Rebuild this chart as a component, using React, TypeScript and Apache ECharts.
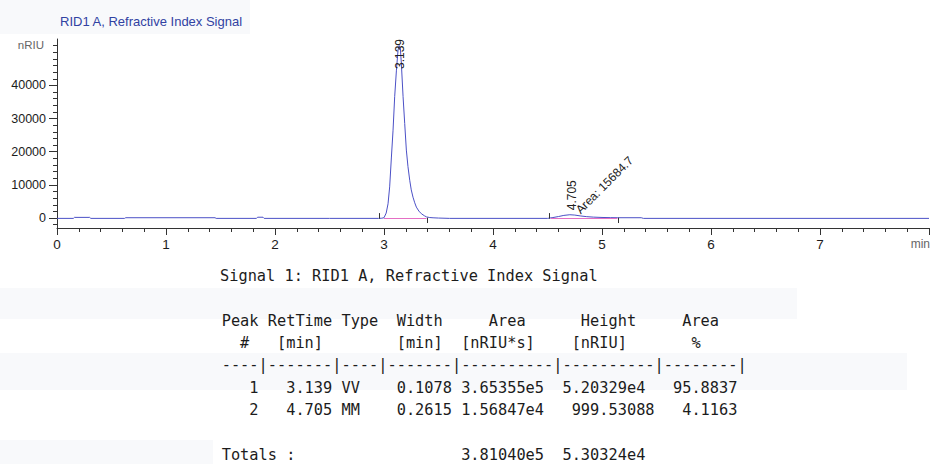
import React, { useEffect, useRef } from "react";
import * as echarts from "echarts";

// ---------- data ----------
const chartTitle = "RID1 A, Refractive Index Signal";
const xUnit = "min";
const yUnit = "nRIU";
const xMajorTicks = [0, 1, 2, 3, 4, 5, 6, 7];
const yMajorTicks = [0, 10000, 20000, 30000, 40000];
const yMinorTicks = [
  -2000, 2000, 4000, 6000, 8000, 12000, 14000, 16000, 18000, 22000, 24000, 26000, 28000,
  32000, 34000, 36000, 38000, 42000, 44000, 46000, 48000, 50000, 52000,
];

const signalTime = [
  0.0, 0.15, 0.16, 0.3, 0.31, 0.62, 0.63, 1.45, 1.46, 1.83, 1.84, 1.89, 1.9, 2.5, 2.95,
  2.98, 3.0, 3.02, 3.037, 3.052, 3.068, 3.083, 3.098, 3.114, 3.129, 3.139, 3.15, 3.159,
  3.175, 3.19, 3.205, 3.22, 3.236, 3.25, 3.266, 3.282, 3.297, 3.32, 3.343, 3.37, 3.39,
  3.42, 3.45, 3.5, 3.6, 4.5, 4.55, 4.6, 4.65, 4.705, 4.75, 4.8, 4.86, 4.92, 5.0, 5.08,
  5.14, 5.36, 5.38, 8.0,
];
const signalValue = [
  -100, -100, 200, 200, -100, -100, 100, 100, -100, -100, 250, 250, -100, -100, -100,
  -50, 100, 1500, 4300, 9400, 18400, 26500, 36600, 44600, 50700, 52033, 51200, 46700,
  36600, 28500, 20500, 15500, 11400, 8500, 6300, 4600, 3300, 2100, 1300, 700, 350,
  150, 80, 0, -100, -100, 150, 450, 800, 1000, 900, 650, 420, 280, 180, 120,
  100, 100, -100, -100,
];

const peakTimes = [3.139, 4.705];
const peakHeights = [52032.9, 999.53088];
const peakAreaNotes = ["", "Area: 15684.7"];
const peakStartTicks = [2.955, 4.512];
const peakEndTicks = [3.398, 5.145];
const baselineStarts = [3.0, 4.53];
const baselineEnds = [3.39, 5.14];

const reportSignal = "Signal 1: RID1 A, Refractive Index Signal";
const reportHeader = [
  "Peak RetTime Type  Width     Area      Height     Area",
  "  #   [min]        [min]  [nRIU*s]    [nRIU]       %",
  "----|-------|----|-------|----------|----------|--------|",
];
const reportRows = [
  "   1   3.139 VV    0.1078 3.65355e5  5.20329e4   95.8837",
  "   2   4.705 MM    0.2615 1.56847e4   999.53088   4.1163",
];
const reportTotals = "Totals :                  3.81040e5  5.30324e4";

// ---------- styling ----------
const AX_FONT = '"Liberation Sans", Arial, sans-serif';
const MONO = '"DejaVu Sans Mono", monospace';
const TXT = "#1c1c1c";

export default function App() {
  const ref = useRef<HTMLDivElement>(null);

  useEffect(() => {
    if (!ref.current) return;
    const chart = echarts.init(ref.current, undefined, { renderer: "svg" });

    const signal = signalTime.map((t, i) => [t, signalValue[i]]);

    const labelItems: any[] = [];
    peakTimes.forEach((t, i) => {
      labelItems.push({ value: [t, peakHeights[i]], text: t.toFixed(3), kind: i === 0 ? "rt1" : "rt2" });
      if (peakAreaNotes[i]) labelItems.push({ value: [t, peakHeights[i]], text: peakAreaNotes[i], kind: "area" });
    });
    const labelPlacement: Record<string, { dx: number; dy: number; rot: number }> = {
      rt1: { dx: 1, dy: 23.5, rot: 90 },
      rt2: { dx: 1.7, dy: -4.5, rot: 90 },
      area: { dx: 8, dy: -3, rot: 45 },
    };

    const markData: any[] = [];
    baselineStarts.forEach((s, i) => {
      markData.push([
        { coord: [s, 0], lineStyle: { color: "#e46fc4", width: 1, type: "solid" } },
        { coord: [baselineEnds[i], 0] },
      ]);
    });
    peakStartTicks.forEach((s) => {
      markData.push([
        { coord: [s, -200], lineStyle: { color: "#333", width: 1, type: "solid" } },
        { coord: [s, 1500] },
      ]);
    });
    peakEndTicks.forEach((s) => {
      markData.push([
        { coord: [s, 100], lineStyle: { color: "#333", width: 1, type: "solid" } },
        { coord: [s, -1500] },
      ]);
    });

    const lineY = [276, 321, 343, 365, 388, 410, 455];
    const reportLines = [reportSignal, ...reportHeader, ...reportRows, reportTotals];
    const textEls = reportLines.map((s, i) => ({
      type: "text",
      x: i === 0 ? 220 : 221.7,
      y: lineY[i],
      z: 10,
      style: {
        text: s,
        font: `15.3px ${MONO}`,
        fill: TXT,
        textVerticalAlign: "middle",
        verticalAlign: "middle",
      },
    }));
    const bandColor = "#f8f9fb";
    const bands = [
      [0, 0, 250, 34],
      [0, 288, 797, 31],
      [0, 353, 907, 37],
      [0, 440, 213, 24],
    ].map((b) => ({
      type: "rect",
      z: -1,
      shape: { x: b[0], y: b[1], width: b[2], height: b[3] },
      style: { fill: bandColor },
      silent: true,
    }));

    chart.setOption({
      animation: false,
      backgroundColor: "#ffffff",
      title: {
        text: chartTitle,
        left: 60,
        top: 15,
        padding: 0,
        textStyle: { color: "#3142a2", fontSize: 13, fontWeight: "normal", fontFamily: AX_FONT },
      },
      grid: { left: 57, right: 2, top: 39, bottom: 236 },
      xAxis: {
        type: "value",
        min: 0,
        max: 8,
        interval: 1,
        name: xUnit,
        nameLocation: "end",
        nameGap: 1,
        nameTextStyle: {
          color: "#666",
          fontSize: 12,
          fontFamily: AX_FONT,
          align: "right",
          verticalAlign: "top",
          padding: [10, 0, 0, 0],
        },
        axisLine: { show: true, onZero: false, lineStyle: { color: "#333", width: 1 } },
        axisTick: { show: true, length: 7, lineStyle: { color: "#333" } },
        minorTick: { show: true, splitNumber: 5, length: 4, lineStyle: { color: "#333" } },
        axisLabel: {
          color: TXT,
          fontSize: 13.5,
          fontFamily: AX_FONT,
          margin: 9,
          formatter: (v: number) => (xMajorTicks.includes(v) ? String(v) : ""),
        },
        splitLine: { show: false },
      },
      yAxis: [
        {
          type: "value",
          min: -3000,
          max: 54000,
          name: yUnit,
          nameLocation: "end",
          nameGap: -6,
          nameTextStyle: {
            color: "#666",
            fontSize: 11.5,
            fontFamily: AX_FONT,
            align: "right",
            verticalAlign: "middle",
            padding: [0, 13, 0, 0],
          },
          axisLine: { show: true, onZero: false, lineStyle: { color: "#333", width: 1 } },
          axisTick: { show: true, length: 8, customValues: yMajorTicks, lineStyle: { color: "#333" } },
          axisLabel: {
            color: TXT,
            fontSize: 12.5,
            fontFamily: AX_FONT,
            margin: 11,
            customValues: yMajorTicks,
            formatter: (v: number) => String(v),
          },
          splitLine: { show: false },
        },
        {
          type: "value",
          min: -3000,
          max: 54000,
          position: "left",
          axisLine: { show: false },
          axisTick: { show: true, length: 4, customValues: yMinorTicks, lineStyle: { color: "#333" } },
          axisLabel: { show: false },
          splitLine: { show: false },
        },
      ],
      series: [
        {
          type: "line",
          name: "signal",
          data: signal,
          showSymbol: false,
          symbol: "none",
          lineStyle: { color: "#4b50c6", width: 1 },
          z: 3,
          silent: true,
        },
        {
          type: "line",
          name: "markers",
          data: [],
          silent: true,
          markLine: {
            silent: true,
            symbol: ["none", "none"],
            label: { show: false },
            emphasis: { disabled: true },
            data: markData,
          },
          z: 4,
        },
        {
          type: "custom",
          name: "labels",
          data: labelItems.map((d) => d.value),
          silent: true,
          z: 5,
          renderItem: (params: any, api: any) => {
            const item = labelItems[params.dataIndex];
            const pl = labelPlacement[item.kind];
            const p = api.coord([api.value(0), api.value(1)]);
            return {
              type: "text",
              x: p[0] + pl.dx,
              y: p[1] + pl.dy,
              rotation: (pl.rot * Math.PI) / 180,
              style: {
                text: item.text,
                fill: "#222",
                font: `12px ${AX_FONT}`,
                align: "left",
                verticalAlign: "middle",
              },
            };
          },
        },
      ],
      graphic: { elements: [...bands, ...textEls] },
    });

    return () => chart.dispose();
  }, []);

  return (
    <div
      ref={ref}
      style={{ position: "absolute", left: 0, top: 0, width: 932, height: 464, background: "#fff" }}
    />
  );
}
